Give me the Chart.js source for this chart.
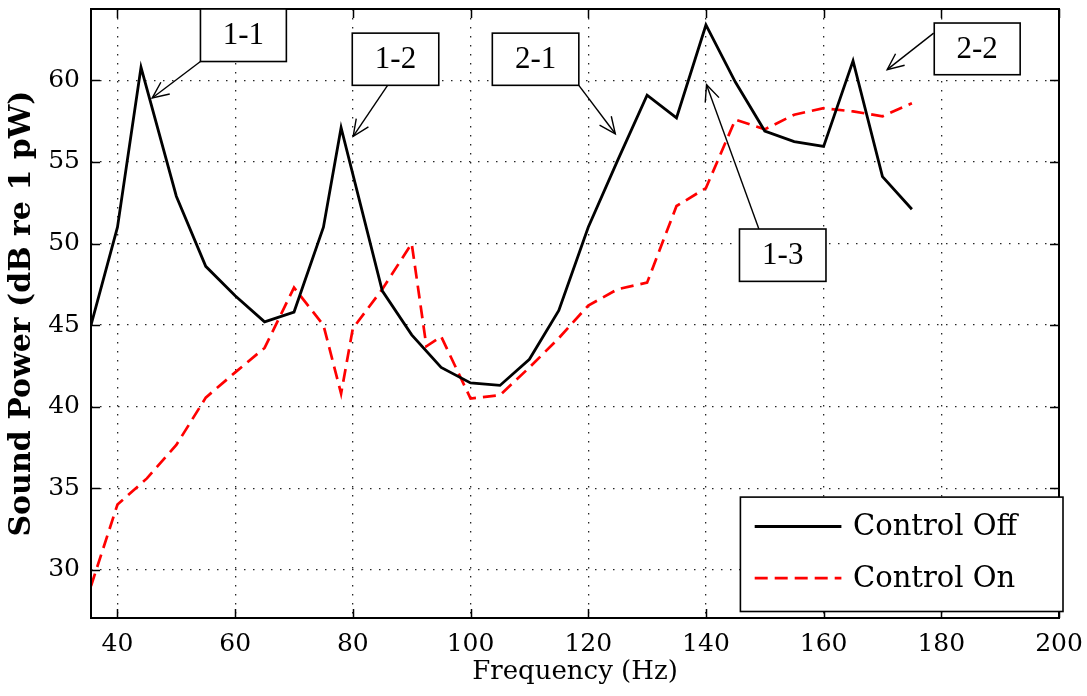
<!DOCTYPE html>
<html><head><meta charset="utf-8">
<script src="https://cdn.jsdelivr.net/npm/chart.js@4.4.0/dist/chart.umd.min.js"></script>
<style>html,body{margin:0;padding:0;background:#fff;} #wrap{width:1087px;height:696px;position:relative;}</style>
</head><body><div id="wrap"><canvas id="c" width="1087" height="696"></canvas></div>
<script>
// ---- data ----
const freqOff  = [35.5, 40, 44, 50, 55, 60, 65, 70, 75, 78, 85, 90, 95, 100, 105, 110, 115, 120, 125, 130, 135, 140, 145, 150, 155, 160, 165, 170, 175];
const powerOff = [45.0, 51.0, 60.8, 52.9, 48.6, 46.8, 45.2, 45.8, 51.0, 57.1, 47.1, 44.4, 42.4, 41.45, 41.3, 42.9, 45.9, 51.0, 55.1, 59.1, 57.7, 63.4, 59.9, 56.9, 56.25, 55.95, 61.2, 54.1, 52.1];
const freqOn   = [35.5, 40, 45, 50, 55, 60, 65, 70, 75, 78, 80, 85, 90, 92.5, 95, 100, 105, 110, 115, 120, 125, 130, 135, 140, 145, 150, 155, 160, 165, 170, 175];
const powerOn  = [29.0, 34.0, 35.6, 37.65, 40.55, 42.1, 43.6, 47.3, 45.0, 40.8, 44.8, 47.2, 50.0, 43.7, 44.3, 40.5, 40.7, 42.4, 44.2, 46.2, 47.2, 47.6, 52.3, 53.4, 57.6, 57.0, 57.9, 58.3, 58.1, 57.8, 58.6];
const xTicks = [40, 60, 80, 100, 120, 140, 160, 180, 200];
const yTicks = [30, 35, 40, 45, 50, 55, 60];
const seriesNames = ['Control Off', 'Control On'];
const xTitle = 'Frequency (Hz)';
const yTitle = 'Sound Power (dB re 1 pW)';
const calloutLabels = ['1-1', '1-2', '2-1', '2-2', '1-3'];

// callout geometry in data units: [xLeft, xRight, yTop, yBottom], tail, head
const calloutGeom = [
  {box: [54.1, 68.7, 64.38, 61.16], tail: [54.1, 61.16], head: [45.9, 58.92]},
  {box: [79.9, 94.6, 62.9, 59.7],   tail: [85.9, 59.7],  head: [80.05, 56.57]},
  {box: [103.7, 118.4, 62.9, 59.7], tail: [118.4, 59.7], head: [124.6, 56.73]},
  {box: [178.8, 193.4, 63.52, 60.35], tail: [178.7, 62.9], head: [170.8, 60.66]},
  {box: [145.7, 160.4, 50.89, 47.68], tail: [149.0, 50.89], head: [140.1, 59.74]}
];

const toXY = (xs, ys) => xs.map((x, i) => ({x: x, y: ys[i]}));
const zeroPad = s => { s.paddingTop = 0; s.paddingBottom = 0; s.paddingLeft = 0; s.paddingRight = 0; };

const framePlugin = {
  id: 'frame',
  afterDatasetsDraw(chart) {
    const ctx = chart.ctx, a = chart.chartArea;
    const xs = chart.scales.x, ys = chart.scales.y;
    ctx.save();
    // inward ticks
    ctx.strokeStyle = '#000'; ctx.lineWidth = 1.5;
    const tl = 9;
    ctx.beginPath();
    xTicks.forEach(v => {
      const px = Math.round(xs.getPixelForValue(v)) + 0.5;
      ctx.moveTo(px, a.bottom); ctx.lineTo(px, a.bottom - tl);
      ctx.moveTo(px, a.top); ctx.lineTo(px, a.top + tl);
    });
    yTicks.forEach(v => {
      const py = Math.round(ys.getPixelForValue(v)) + 0.5;
      ctx.moveTo(a.left, py); ctx.lineTo(a.left + tl, py);
      ctx.moveTo(a.right, py); ctx.lineTo(a.right - tl, py);
    });
    ctx.stroke();
    // box
    ctx.lineWidth = 2;
    ctx.strokeRect(a.left, a.top, a.right - a.left, a.bottom - a.top);

    // callouts
    const drawArrow = (x1, y1, x2, y2) => {
      ctx.lineWidth = 1.4; ctx.strokeStyle = '#000';
      ctx.beginPath(); ctx.moveTo(x1, y1); ctx.lineTo(x2, y2); ctx.stroke();
      const ang = Math.atan2(y1 - y2, x1 - x2);
      const L = 18, w = 0.42;
      ctx.beginPath();
      ctx.moveTo(x2 + L * Math.cos(ang + w), y2 + L * Math.sin(ang + w));
      ctx.lineTo(x2, y2);
      ctx.lineTo(x2 + L * Math.cos(ang - w), y2 + L * Math.sin(ang - w));
      ctx.stroke();
    };
    calloutGeom.forEach((g, i) => {
      const x1 = xs.getPixelForValue(g.box[0]), x2 = xs.getPixelForValue(g.box[1]);
      const y1 = ys.getPixelForValue(g.box[2]), y2 = ys.getPixelForValue(g.box[3]);
      drawArrow(xs.getPixelForValue(g.tail[0]), ys.getPixelForValue(g.tail[1]),
                xs.getPixelForValue(g.head[0]), ys.getPixelForValue(g.head[1]));
      ctx.fillStyle = '#fff';
      ctx.fillRect(x1, y1, x2 - x1, y2 - y1);
      ctx.lineWidth = 1.6; ctx.strokeStyle = '#000';
      ctx.strokeRect(x1, y1, x2 - x1, y2 - y1);
      ctx.fillStyle = '#000';
      ctx.font = '31px "Liberation Serif"';
      ctx.textAlign = 'center'; ctx.textBaseline = 'middle';
      ctx.fillText(calloutLabels[i], (x1 + x2) / 2, (y1 + y2) / 2 + 1);
    });

    // legend
    const lw = 322.6, lh = 114.4;
    const lx = a.right + 4 - lw, ly = a.bottom - 6.5 - lh;
    ctx.fillStyle = '#fff';
    ctx.fillRect(lx, ly, lw, lh);
    ctx.lineWidth = 1.6; ctx.strokeStyle = '#000';
    ctx.strokeRect(lx, ly, lw, lh);
    chart.data.datasets.forEach((ds, i) => {
      const cy = ly + 29.4 + i * 51.6;
      ctx.save();
      ctx.strokeStyle = ds.borderColor; ctx.lineWidth = ds.borderWidth;
      ctx.setLineDash(ds.borderDash || []);
      ctx.beginPath(); ctx.moveTo(lx + 14.3, cy); ctx.lineTo(lx + 101, cy); ctx.stroke();
      ctx.restore();
      ctx.fillStyle = '#000';
      ctx.font = '29px "DejaVu Serif"';
      ctx.textAlign = 'left'; ctx.textBaseline = 'middle';
      ctx.fillText(ds.label, lx + 112.6, cy + 1);
    });
    ctx.restore();
  }
};

new Chart(document.getElementById('c'), {
  type: 'line',
  data: {
    datasets: [
      {label: seriesNames[0], data: toXY(freqOff, powerOff), borderColor: '#000000', borderWidth: 2.8,
       pointRadius: 0, tension: 0, fill: false},
      {label: seriesNames[1], data: toXY(freqOn, powerOn), borderColor: '#ff0000', borderWidth: 2.7,
       borderDash: [13, 7], pointRadius: 0, tension: 0, fill: false}
    ]
  },
  options: {
    responsive: false, animation: false, devicePixelRatio: 1,
    layout: {padding: {left: 0, right: 28, top: 9, bottom: 0}},
    plugins: {legend: {display: false}, tooltip: {enabled: false}},
    scales: {
      x: {
        type: 'linear', min: 35.5, max: 200,
        afterBuildTicks: s => { s.ticks = xTicks.map(v => ({value: v})); },
        afterFit: s => { s.height = 78; zeroPad(s); },
        grid: {color: 'rgba(0,0,0,0.85)', lineWidth: 1.3, drawTicks: false},
        border: {display: false, dash: [1.5, 7.5]},
        ticks: {color: '#000', padding: 11, maxRotation: 0, font: {family: 'DejaVu Serif', size: 25}},
        title: {display: true, text: xTitle, color: '#000', font: {family: 'DejaVu Serif', size: 26}, padding: {top: 0, bottom: 8}}
      },
      y: {
        type: 'linear', min: 27.04, max: 64.38,
        afterBuildTicks: s => { s.ticks = yTicks.map(v => ({value: v})); },
        afterFit: s => { s.width = 91; zeroPad(s); },
        grid: {color: 'rgba(0,0,0,0.85)', lineWidth: 1.3, drawTicks: false},
        border: {display: false, dash: [1.5, 7.5]},
        ticks: {color: '#000', padding: 11, font: {family: 'DejaVu Serif', size: 25}},
        title: {display: true, text: yTitle, color: '#000', font: {family: 'DejaVu Serif', size: 30, weight: 'bold'}, padding: {top: 4, bottom: 0}}
      }
    }
  },
  plugins: [framePlugin]
});
</script>
</body></html>
